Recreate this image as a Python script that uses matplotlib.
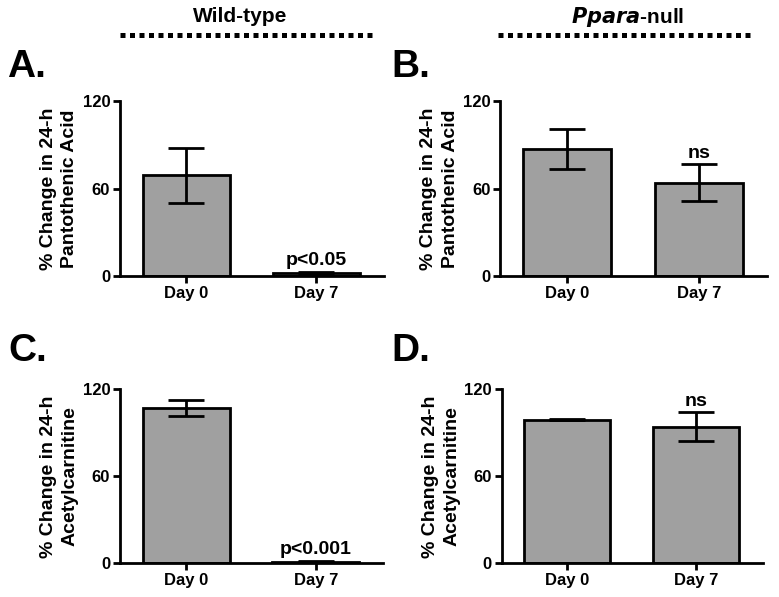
import matplotlib
matplotlib.use('Agg')
import matplotlib.pyplot as plt

plt.rcParams['font.family'] = ['Liberation Sans', 'DejaVu Sans']
plt.rcParams['font.weight'] = 'bold'

# data
days = ['Day 0', 'Day 7']
wt_panto = [69, 2]
wt_panto_err = [19, 0.5]
null_panto = [87, 64]
null_panto_err = [13.5, 12.5]
wt_acetyl = [107, 1]
wt_acetyl_err = [5.5, 0.3]
null_acetyl = [99, 94]
null_acetyl_err = [0.5, 10]

yticks = [0, 60, 120]
panto_label = '% Change in 24-h\nPantothenic Acid'
acetyl_label = '% Change in 24-h\nAcetylcarnitine'

panels = [
    ('A.', wt_panto, wt_panto_err, panto_label, 'p<0.05', [0.154, 0.5377, 0.339, 0.2931], (0.009, 0.888)),
    ('B.', null_panto, null_panto_err, panto_label, 'ns', [0.642, 0.5377, 0.343, 0.2931], (0.502, 0.888)),
    ('C.', wt_acetyl, wt_acetyl_err, acetyl_label, 'p<0.001', [0.154, 0.0565, 0.338, 0.2915], (0.011, 0.412)),
    ('D.', null_acetyl, null_acetyl_err, acetyl_label, 'ns', [0.644, 0.0565, 0.335, 0.2915], (0.503, 0.412)),
]

fig = plt.figure(figsize=(7.79, 5.97), dpi=100)

for letter, vals, errs, ylab, sig, pos, lpos in panels:
    ax = fig.add_axes(pos)
    x = range(len(days))
    ax.bar(x, vals, width=0.67, color='#a0a0a0', edgecolor='black', linewidth=2, zorder=2)
    ax.errorbar(x, vals, yerr=errs, fmt='none', ecolor='black', elinewidth=2,
                capsize=13, capthick=2, zorder=3)
    ax.set_xlim(-0.51, 1.52)
    ax.set_ylim(0, 120)
    ax.set_yticks(yticks)
    ax.set_xticks(list(x))
    ax.set_xticklabels(days)
    for s in ['top', 'right']:
        ax.spines[s].set_visible(False)
    for s in ['left', 'bottom']:
        ax.spines[s].set_linewidth(2)
    ax.tick_params(width=2, length=5, labelsize=12, pad=2)
    ax.set_ylabel(ylab, fontsize=14, fontweight='bold', labelpad=3, linespacing=1.35)
    # significance text above the Day 7 bar
    ax.text(1, vals[1] + errs[1] + 2, sig, ha='center', va='bottom', fontsize=14, fontweight='bold')
    # panel letter
    fig.text(lpos[0], lpos[1], letter, fontsize=28, fontweight='bold', ha='left', va='center')

# group headers with dotted lines
fig.text(0.308, 0.972, 'Wild-type', fontsize=15, fontweight='bold', ha='center', va='center')
fig.text(0.806, 0.972, '$\\mathbf{\\mathit{Ppara}}$-null', fontsize=15, fontweight='bold',
         ha='center', va='center')
fig.add_artist(plt.Line2D([0.154, 0.481], [0.941, 0.941], color='black', lw=3.6,
                          linestyle=(0, (1, 0.9)), dash_capstyle='butt'))
fig.add_artist(plt.Line2D([0.639, 0.966], [0.941, 0.941], color='black', lw=3.6,
                          linestyle=(0, (1, 0.9)), dash_capstyle='butt'))

fig.savefig('out.png', dpi=100)
